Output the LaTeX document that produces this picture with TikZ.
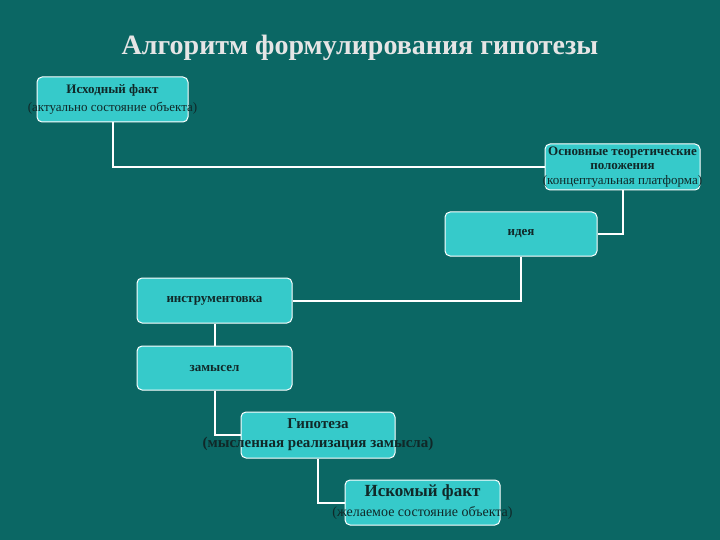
\documentclass[tikz,border=0pt]{standalone}
\usepackage{fontspec}
\setmainfont{Liberation Serif}
\definecolor{bg}{HTML}{0B6764}
\definecolor{boxc}{HTML}{36CACA}
\definecolor{txt}{HTML}{102828}
\begin{document}
\begin{tikzpicture}[x=1pt,y=-1pt,
  bx/.style={draw=white,line width=1pt,fill=boxc,rounded corners=5pt,inner sep=0pt},
  ln/.style={draw=white,line width=2pt},
  tx/.style={text=txt,font=\fontsize{13}{16}\selectfont,align=center,inner sep=0pt}]
\fill[bg] (0,0) rectangle (720,540);
\node[text=white!90!black,font=\bfseries\fontsize{28}{32}\selectfont] (title) at (360,48) {Алгоритм формулирования гипотезы};
\node[bx,minimum width=151pt,minimum height=45pt] (a) at (112.5,99.5) {};
\node[bx,minimum width=155pt,minimum height=46pt] (b) at (622.5,167) {};
\node[bx,minimum width=152pt,minimum height=44pt] (c) at (521,234) {};
\node[bx,minimum width=155pt,minimum height=45pt] (d) at (214.5,300.5) {};
\node[bx,minimum width=155pt,minimum height=44pt] (e) at (214.5,368) {};
\node[bx,minimum width=154pt,minimum height=46pt] (f) at (318,435) {};
\node[bx,minimum width=155pt,minimum height=45pt] (g) at (422.5,502.5) {};
\draw[ln] (a.south) |- (b.west);
\draw[ln] (b.south) |- (c.east);
\draw[ln] (c.south) |- (d.east);
\draw[ln] (d.south) -- (e.north);
\draw[ln] (e.south) |- (f.west);
\draw[ln] (f.south) |- (g.west);
\node[tx,font=\fontsize{13}{18}\selectfont] (ta) at (a.center) {\textbf{Исходный факт}\\(актуально состояние объекта)};
\node[tx,font=\fontsize{13}{14.5}\selectfont] (tb) at (b.center) {\textbf{Основные теоретические}\\\textbf{положения}\\(концептуальная платформа)};
\node[tx] (tc) at (c.center) {\textbf{идея}};
\node[tx] (td) at (d.center) {\textbf{инструментовка}};
\node[tx] (te) at (e.center) {\textbf{замысел}};
\node[tx,font=\fontsize{15}{19}\selectfont] (tf) at (f.center) {\textbf{Гипотеза}\\\textbf{(мысленная реализация замысла)}};
\node[tx,font=\fontsize{14}{20}\selectfont] (tg) at (g.center) {{\fontsize{17}{18}\selectfont\textbf{Искомый факт}}\\(желаемое состояние объекта)};
\end{tikzpicture}
\end{document}
